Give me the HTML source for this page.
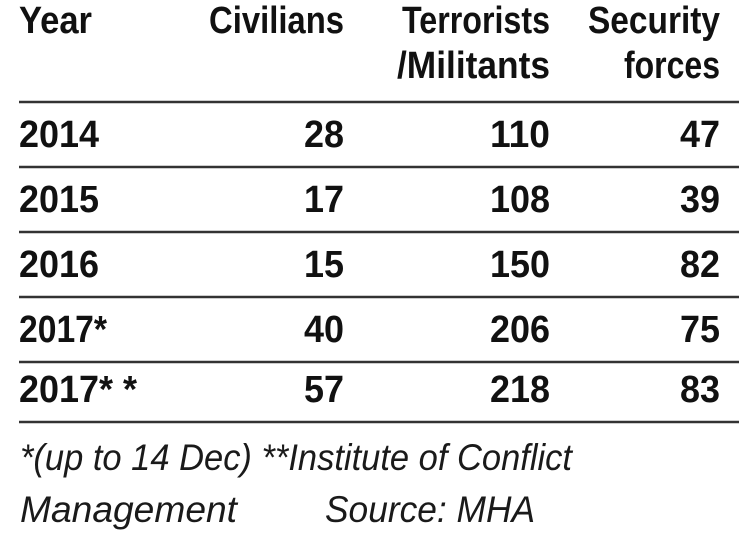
<!DOCTYPE html>
<html><head><meta charset="utf-8"><style>
html,body{margin:0;padding:0;background:#fff;width:749px;height:540px;overflow:hidden}
svg{display:block}
.h{font-family:"Liberation Sans",sans-serif;font-weight:bold;font-size:38px;fill:#111}
.n{font-family:"Liberation Sans",sans-serif;font-weight:bold;font-size:38px;fill:#111}
.f{font-family:"Liberation Sans",sans-serif;font-style:italic;font-size:37px;fill:#1a1a1a}
</style></head><body>
<svg id="t" width="749" height="540" xmlns="http://www.w3.org/2000/svg">
<text class="h" x="19" y="33" textLength="73" lengthAdjust="spacingAndGlyphs">Year</text>
<text class="h" x="209" y="33" textLength="135" lengthAdjust="spacingAndGlyphs">Civilians</text>
<text class="h" x="402" y="33" textLength="148" lengthAdjust="spacingAndGlyphs">Terrorists</text>
<text class="h" x="397" y="78" textLength="153" lengthAdjust="spacingAndGlyphs">/Militants</text>
<text class="h" x="588" y="33" textLength="132" lengthAdjust="spacingAndGlyphs">Security</text>
<text class="h" x="624" y="78" textLength="96" lengthAdjust="spacingAndGlyphs">forces</text>
<g id="rows"></g>
<text class="f" x="20" y="470" textLength="552" lengthAdjust="spacingAndGlyphs">*(up to 14 Dec) **Institute of Conflict</text>
<text class="f" x="20" y="522" textLength="217" lengthAdjust="spacingAndGlyphs">Management</text>
<text class="f" x="325" y="522" textLength="210" lengthAdjust="spacingAndGlyphs">Source: MHA</text>
</svg>
<script>
const years=["2014","2015","2016","2017*","2017* *"];
const civilians=[28,17,15,40,57];
const terrorists=[110,108,150,206,218];
const security=[47,39,82,75,83];
const NS="http://www.w3.org/2000/svg";
const g=document.getElementById("rows");
const lineYs=[102,167,232,297,362,422];
lineYs.forEach((y,i)=>{
  const l=document.createElementNS(NS,"line");
  
  
  l.setAttribute("x1",19);l.setAttribute("x2",739);
  l.setAttribute("y1",y);l.setAttribute("y2",y);
  l.setAttribute("stroke","#333");l.setAttribute("stroke-width","2.5");
  g.appendChild(l);
});
function txt(s,x,y,anchor,w){
  const t=document.createElementNS(NS,"text");
  t.setAttribute("class","n");t.setAttribute("x",x);t.setAttribute("y",y);
  t.setAttribute("text-anchor",anchor);
  t.setAttribute("textLength",w);t.setAttribute("lengthAdjust","spacingAndGlyphs");
  t.textContent=s;g.appendChild(t);return t;
}
const perDigit=20;
years.forEach((yr,i)=>{
  const by=147+i*65-(i==4?5:0);
  const a=txt(yr,19,by,"start",yr.length>5?118:(yr.length>4?88:80));
  
  
  const c=String(civilians[i]);
  const b=txt(c,344,by,"end",c.length*perDigit);
  
  
  const t=String(terrorists[i]);
  const d=txt(t,550,by,"end",t.length*perDigit);
  
  
  const s=String(security[i]);
  const e=txt(s,720,by,"end",s.length*perDigit);
  
  
});
</script>
</body></html>
